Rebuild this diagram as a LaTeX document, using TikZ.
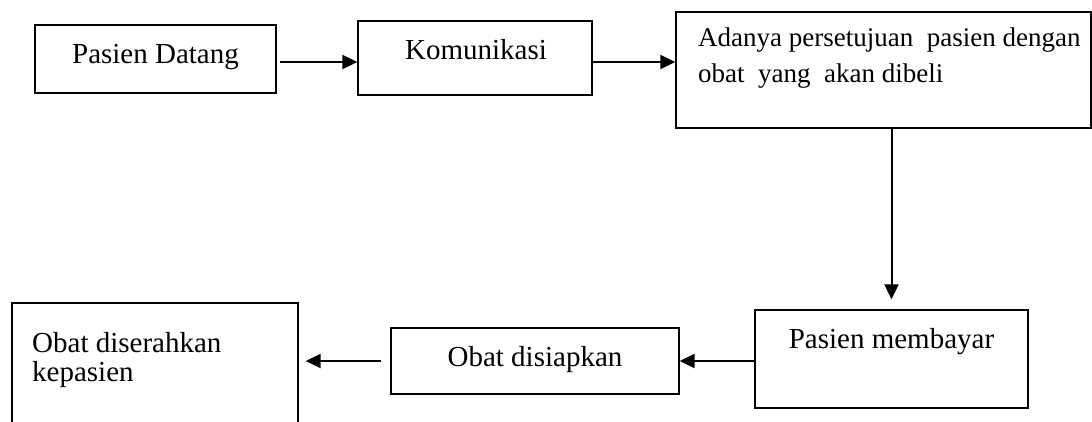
\documentclass[tikz,border=0pt]{standalone}
\usepackage{fontspec}
\setmainfont{Liberation Serif}
\usetikzlibrary{arrows.meta}
\begin{document}
\begin{tikzpicture}[x=1pt,y=-1pt,
  box/.style={draw=black,line width=1.3pt,inner sep=0pt,rectangle},
  txt/.style={inner sep=0pt,font=\fontsize{29}{35}\selectfont},
  arr/.style={line width=2pt,-{Triangle[length=15pt,width=14pt]}}]
\useasboundingbox (0,0) rectangle (1092,421);
\clip (0,0) rectangle (1092,421);
\fill[white] (0,0) rectangle (1092,421);
% boxes
\node[box,minimum width=241pt,minimum height=68pt] (b1) at (155.5,59) {};
\node[box,minimum width=234pt,minimum height=74pt] (b2) at (475,58) {};
\node[box,minimum width=415pt,minimum height=116pt] (b3) at (883.5,70) {};
\node[box,minimum width=273pt,minimum height=98pt] (b4) at (891.5,359) {};
\node[box,minimum width=288pt,minimum height=66pt] (b5) at (535,361) {};
\node[box,minimum width=286pt,minimum height=137pt] (b6) at (155,371.5) {};
% texts
\node[txt,anchor=base] (t1) at (155.5,63) {Pasien Datang};
\node[txt,anchor=base] (t2) at (476,59) {Komunikasi};
\node[txt,anchor=base west,align=left,font=\fontsize{27}{36}\selectfont] (t3) at (698,82) {Adanya persetujuan\ \ pasien dengan\\obat\ \ yang\ \ akan dibeli};
\node[txt,anchor=base] (t4) at (891.5,348) {Pasien membayar};
\node[txt,anchor=base] (t5) at (535,366) {Obat disiapkan};
\node[txt,anchor=base west,align=left,font=\fontsize{29}{29}\selectfont] (t6) at (32,381) {Obat diserahkan\\kepasien};
% connectors
\draw[arr] ([xshift=3pt,yshift=-3pt]b1.east) -- ([yshift=-4pt]b2.west);
\draw[arr] ([yshift=-4pt]b2.east) -- ([yshift=-4pt]b2.east -| b3.west);
\draw[arr] (b3.south -| b4.north) -- ([yshift=10pt]b4.north);
\draw[arr] (b4.west |- b5.east) -- (b5.east);
\draw[arr] ([xshift=-9pt]b5.west) -- ([xshift=7pt]b6.east |- b5.west);
\end{tikzpicture}
\end{document}
